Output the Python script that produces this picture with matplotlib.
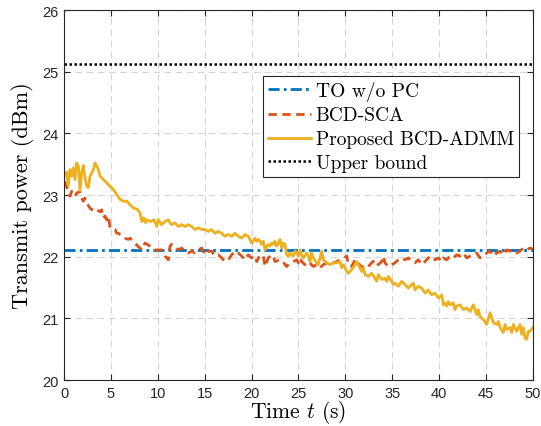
import numpy as np
import matplotlib
matplotlib.use("Agg")
import matplotlib.pyplot as plt

# time axis / values
t_admm = [0.0, 0.28, 0.46, 0.64, 0.82, 0.99, 1.17, 1.35, 1.53, 1.71,
          1.88, 2.06, 2.24, 2.42, 2.60, 2.77, 3.13, 3.30, 3.48, 3.66,
          3.84, 4.20, 4.55, 4.90, 5.26, 5.62, 5.97, 6.30, 6.70, 7.00,
          7.40, 7.80, 8.10, 8.30, 8.50, 8.70, 8.80, 9.20, 9.60, 9.90,
          10.06, 10.41, 10.77, 11.12, 11.30, 11.48, 11.83, 12.19, 12.54, 12.90,
          13.25, 13.61, 13.96, 14.32, 14.68, 15.03, 15.39, 15.74, 16.10, 16.45,
          16.81, 17.16, 17.52, 17.87, 18.23, 18.58, 18.94, 19.29, 19.65, 20.01,
          20.36,
          20.54, 20.72, 20.90, 21.07, 21.25, 21.43, 21.61, 21.78, 21.96, 22.14,
          22.32, 22.50, 22.67, 22.85, 23.03, 23.21, 23.38, 23.56, 23.74, 23.92,
          24.09, 24.27, 24.45, 24.63, 24.81, 24.98, 25.16, 25.34, 25.52, 25.87,
          26.05, 26.23, 26.40, 26.58, 26.94, 27.11, 27.29, 27.47, 27.65, 28.00,
          28.36, 28.71, 29.07, 29.42, 29.60, 29.78, 30.14, 30.31,
          30.67, 31.03, 31.20, 31.38, 31.74, 31.91, 32.09, 32.45, 32.80, 33.16,
          33.34, 33.51, 33.87, 34.22, 34.40, 34.58, 34.94, 35.11, 35.29, 35.65,
          36.00, 36.36, 36.71, 37.07, 37.25, 37.42, 37.78, 38.13, 38.49, 38.84,
          39.20, 39.55, 39.91, 40.27,
          40.45, 40.62, 40.80, 40.98, 41.16, 41.51, 41.69, 41.87, 42.22, 42.58,
          42.93, 43.29, 43.64, 43.82, 44.00, 44.18, 44.35, 44.71, 45.06, 45.42,
          45.60, 45.78, 46.13, 46.31, 46.49, 46.84, 47.02, 47.20, 47.55, 47.73,
          47.91, 48.26, 48.62, 48.80, 48.97, 49.15, 49.33, 49.51, 49.68, 50.0]
p_admm = [23.30, 23.37, 23.15, 23.41, 23.31, 23.44, 23.25, 23.52, 23.47, 23.07,
          23.36, 23.48, 23.28, 23.14, 23.12, 23.30, 23.41, 23.52, 23.47, 23.41,
          23.31, 23.25, 23.20, 23.14, 23.09, 23.01, 22.93, 22.90, 22.90, 22.85,
          22.79, 22.77, 22.71, 22.57, 22.63, 22.55, 22.60, 22.57, 22.60, 22.49,
          22.60, 22.52, 22.57, 22.60, 22.55, 22.52, 22.55, 22.49, 22.52, 22.49,
          22.52, 22.49, 22.44, 22.47, 22.44, 22.44, 22.41, 22.44, 22.38, 22.41,
          22.38, 22.33, 22.36, 22.33, 22.38, 22.33, 22.30, 22.36, 22.33, 22.22,
          22.30,
          22.25, 22.28, 22.25, 22.20, 22.25, 22.11, 22.17, 22.20, 22.17, 22.22,
          22.20, 22.25, 22.17, 22.22, 22.28, 22.14, 22.22, 22.20, 22.03, 22.01,
          22.06, 22.03, 22.01, 22.09, 22.06, 22.01, 22.11, 22.03, 21.98, 22.06,
          22.01, 21.92, 22.06, 21.98, 21.90, 21.87, 21.98, 22.09, 21.95, 21.90,
          21.87, 21.90, 21.90, 21.92, 21.82, 21.87, 21.76, 21.73,
          21.79, 21.87, 21.92, 21.87, 21.76, 21.82, 21.71, 21.68, 21.73, 21.65,
          21.60, 21.71, 21.63, 21.65, 21.60, 21.68, 21.60, 21.55, 21.57, 21.52,
          21.60, 21.55, 21.49, 21.55, 21.57, 21.46, 21.52, 21.49, 21.41, 21.46,
          21.38, 21.41, 21.33, 21.38,
          21.22, 21.25, 21.20, 21.27, 21.22, 21.25, 21.14, 21.20, 21.22, 21.14,
          21.17, 21.11, 21.22, 21.14, 21.06, 21.14, 21.03, 20.98, 20.90, 21.09,
          21.01, 20.93, 20.90, 20.95, 20.85, 20.77, 20.90, 20.82, 20.85, 20.77,
          20.90, 20.79, 20.90, 20.74, 20.85, 20.68, 20.66, 20.79, 20.79, 20.85]

t_sca = [0.0, 0.11, 0.28, 0.46, 0.64, 0.82, 0.99, 1.17, 1.35, 1.71,
         1.88, 2.06, 2.24, 2.42, 2.77, 2.95, 3.13, 3.48, 3.84, 4.02,
         4.19, 4.37, 4.55, 4.73, 4.90, 5.08, 5.44, 5.62, 5.79, 5.97,
         6.50, 6.86, 7.04, 7.75, 8.10, 8.28, 8.64, 8.99, 9.35, 9.70,
         10.06,
         10.41, 10.77, 11.12, 11.30, 11.48, 11.83, 12.19, 12.54, 12.90, 13.25,
         13.61, 13.96, 14.32, 14.68, 15.03, 15.39, 15.74, 16.10, 16.45, 16.81,
         17.16, 17.52, 17.87, 18.23, 18.58, 18.94, 19.29, 19.65, 19.98, 20.36,
         20.54, 20.90, 21.25, 21.43, 21.78, 22.14, 22.32, 22.50, 23.03, 23.38,
         23.56, 23.74, 24.09, 24.45, 24.81, 24.98, 25.16, 25.34, 25.69, 26.05,
         26.40, 26.58, 26.94, 27.29, 27.65, 28.00, 28.36, 28.71, 29.07, 29.42,
         29.78, 30.14,
         30.32, 30.67, 31.03, 31.38, 31.74, 32.09, 32.45, 32.80, 33.16, 33.51,
         33.87, 34.05, 34.22, 34.58, 34.94, 35.29, 35.65, 36.00, 36.36, 36.71,
         37.07, 37.42, 37.78, 38.13, 38.49, 38.84, 39.20, 39.55, 39.91, 40.27,
         40.45, 40.80, 41.16, 41.51, 41.87, 42.22, 42.58, 42.93, 43.29, 43.64,
         44.00, 44.35, 44.71, 45.06, 45.42, 45.78, 46.13, 46.49, 46.84, 47.20,
         47.55, 47.91, 48.26, 48.62, 48.97, 49.33, 49.68, 50.0]
p_sca = [23.22, 23.20, 23.14, 23.03, 22.98, 23.06, 23.03, 22.98, 23.03, 23.06,
         22.95, 22.90, 22.95, 22.87, 22.79, 22.76, 22.79, 22.76, 22.73, 22.76,
         22.63, 22.66, 22.60, 22.66, 22.49, 22.44, 22.44, 22.38, 22.38, 22.36,
         22.30, 22.28, 22.30, 22.19, 22.14, 22.11, 22.22, 22.19, 22.14, 22.11,
         22.11,
         22.11, 22.01, 21.95, 22.17, 22.20, 22.17, 22.11, 22.14, 22.09, 22.06,
         22.09, 22.06, 22.11, 22.14, 22.03, 22.09, 22.09, 22.01, 22.03, 21.98,
         21.92, 21.95, 22.03, 22.09, 22.06, 22.01, 21.95, 22.03, 21.98, 22.01,
         21.92, 22.03, 22.01, 21.84, 21.98, 22.03, 22.01, 21.92, 21.95, 21.92,
         21.87, 21.84, 21.90, 21.92, 21.95, 21.90, 21.98, 21.92, 21.87, 21.92,
         21.87, 21.84, 21.87, 21.82, 21.87, 21.90, 21.87, 21.90, 21.92, 21.95,
         21.98, 22.01,
         21.87, 21.84, 21.95, 21.90, 21.82, 21.87, 21.84, 21.90, 21.95, 21.87,
         21.92, 22.01, 21.90, 21.84, 21.87, 21.90, 21.95, 21.98, 21.95, 21.98,
         21.92, 21.90, 21.95, 21.87, 21.92, 21.98, 22.01, 21.95, 21.98, 21.92,
         21.98, 21.95, 22.01, 21.98, 22.03, 22.01, 22.06, 21.98, 22.01, 22.03,
         22.06, 21.98, 22.01, 22.06, 22.09, 22.01, 22.06, 22.09, 22.03, 22.11,
         22.09, 22.11, 22.06, 22.09, 22.14, 22.11, 22.14, 22.12]

t_const = [0, 50]
p_to = [22.11, 22.11]        # TO w/o PC
p_ub = [25.12, 25.12]        # upper bound

labels = ['TO w/o PC', 'BCD-SCA', 'Proposed BCD-ADMM', 'Upper bound']

plt.rcParams['mathtext.fontset'] = 'cm'
plt.rcParams['axes.unicode_minus'] = False

fig = plt.figure(figsize=(5.41, 4.27), dpi=100)
ax = fig.add_axes([0.1183, 0.1077, 0.8669, 0.8665])

ax.plot(t_const, p_to, color='#0072BD', lw=2, linestyle=(0, (4, 1.5, 1, 1.5)), label=labels[0])
ax.plot(t_sca, p_sca, color='#D95319', lw=2, linestyle=(0, (3, 2)), label=labels[1])
ax.plot(t_admm, p_admm, color='#EDB120', lw=2, label=labels[2])
ax.plot(t_const, p_ub, color='black', lw=1.8, linestyle=(0, (1, 1)), label=labels[3])

ax.set_xlim(0, 50)
ax.set_ylim(20, 26)
ax.set_xticks(np.arange(0, 51, 5))
ax.set_yticks(np.arange(20, 27, 1))
ax.grid(True, color='#d4d4d4', linestyle=(0, (6, 4)), lw=0.8)
ax.set_axisbelow(True)

ax.tick_params(direction='in', length=4, width=0.8, colors='#262626',
               top=True, right=True, labelsize=10.5, pad=4)
for lab in ax.get_xticklabels() + ax.get_yticklabels():
    lab.set_fontfamily('Liberation Sans')
for sp in ax.spines.values():
    sp.set_color('#262626')
    sp.set_linewidth(0.8)

ax.set_xlabel('Time $t$ (s)', fontfamily='cmr10', fontsize=15.5, labelpad=-1)
ax.set_ylabel('Transmit power (dBm)', fontfamily='cmr10', fontsize=16, labelpad=6)

leg = ax.legend(loc='upper right', bbox_to_anchor=(0.97, 0.822), fancybox=False,
                edgecolor='#262626', framealpha=1, handlelength=2.2,
                handletextpad=0.25, borderpad=0.25, labelspacing=0.3,
                borderaxespad=0, prop={'family': 'cmr10', 'size': 14})
leg.get_frame().set_linewidth(0.8)

fig.savefig('out.png', dpi=100)
